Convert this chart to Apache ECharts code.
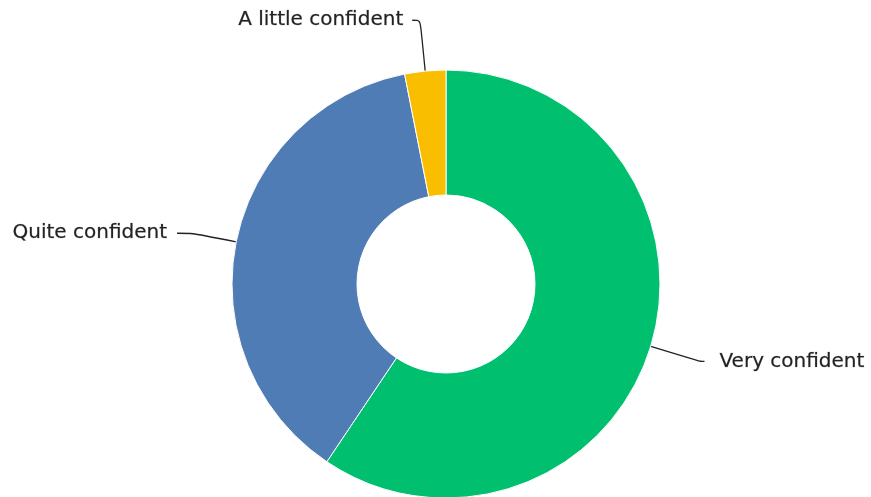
<!DOCTYPE html>
<html>
<head>
<meta charset="utf-8">
<script src="https://cdn.jsdelivr.net/npm/echarts@6/dist/echarts.min.js"></script>
<style>
  html, body { margin: 0; padding: 0; background: #fff; }
  #chart { width: 871px; height: 497px; }
</style>
</head>
<body>
<div id="chart"></div>
<script>
// Answer categories and their share of responses (%)
const categories = ['Very confident', 'Quite confident', 'A little confident'];
const shares = [59.4, 37.5, 3.1];
const colors = ['#00BF6F', '#507CB6', '#F9BE00'];
// Leader-line lengths per slice: [first segment, horizontal segment]
const leaderLengths = [[52, 4], [44, 16], [51, 8]];
// Gap between each leader line and its text
const labelGaps = [15, 10, 9];

const chart = echarts.init(document.getElementById('chart'));

const data = categories.map((name, i) => ({
  name,
  value: shares[i],
  itemStyle: { color: colors[i] },
  label: { distanceToLabelLine: labelGaps[i] },
  labelLine: { length: leaderLengths[i][0], length2: leaderLengths[i][1] }
}));

chart.setOption({
  animation: false,
  series: [{
    type: 'pie',
    center: [446, 284],
    radius: [89, 214],
    startAngle: 90,
    clockwise: true,
    avoidLabelOverlap: false,
    itemStyle: { borderColor: '#fff', borderWidth: 1 },
    label: {
      show: true,
      position: 'outside',
      formatter: '{b}',
      fontFamily: 'DejaVu Sans',
      fontSize: 20,
      color: '#222',
      textBorderColor: 'rgba(34,34,34,0.35)',
      textBorderWidth: 0.6
    },
    labelLine: {
      show: true,
      smooth: 0.3,
      lineStyle: { color: '#222', width: 1.3 }
    },
    data
  }]
});
</script>
</body>
</html>
